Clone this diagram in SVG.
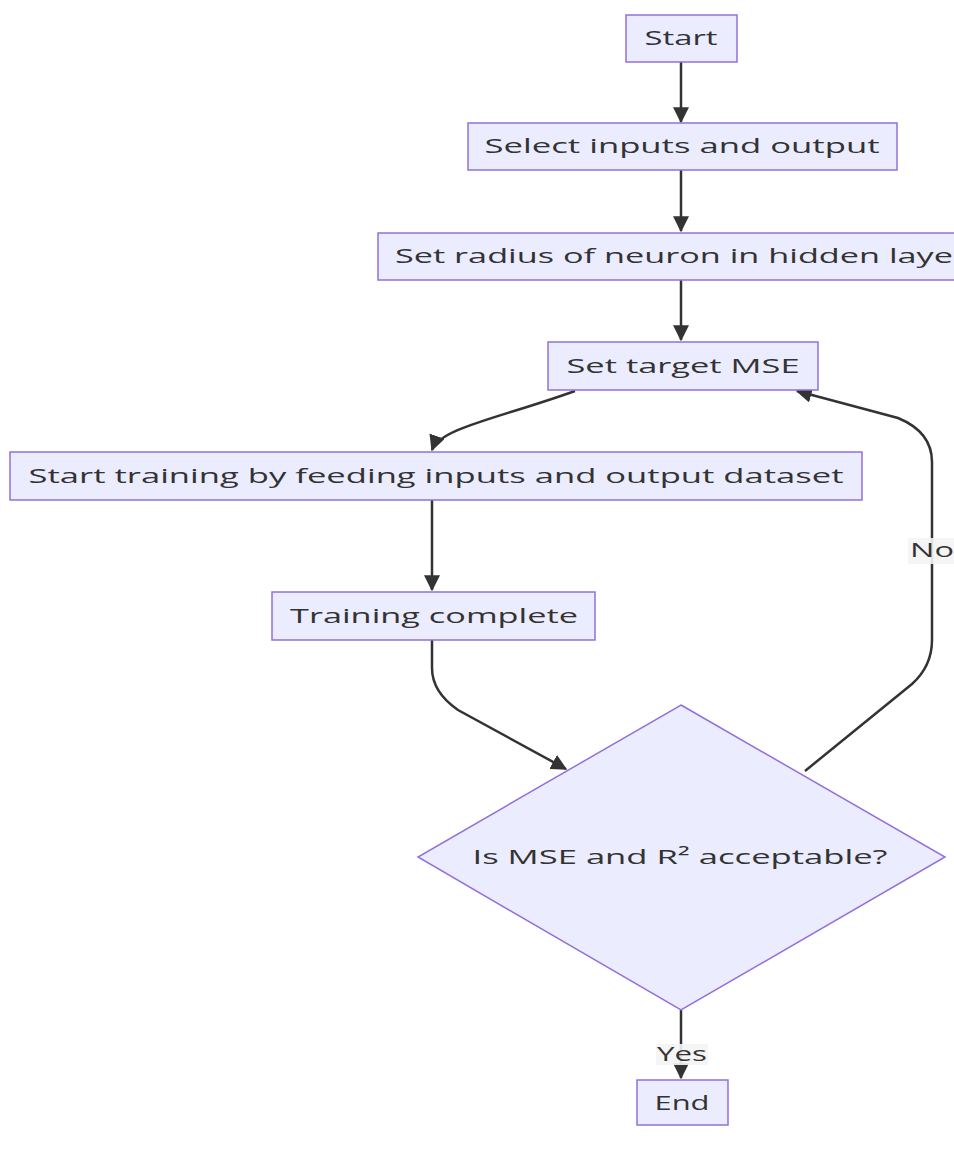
<svg xmlns="http://www.w3.org/2000/svg" width="954" height="1151" viewBox="0 0 954 1151">
<style>
.node rect,.node polygon{fill:#ECECFF;stroke:#9370DB;stroke-width:1.5}
text{font-family:"Open Sans","DejaVu Sans",sans-serif;font-size:20px;fill:#333;text-anchor:middle}
.edge{fill:none;stroke:#333;stroke-width:2.5}
.lbl{fill:#f4f4f4;opacity:0.9}
</style>
<defs>
<marker id="ah" markerUnits="userSpaceOnUse" markerWidth="16" markerHeight="16" viewBox="0 0 12 12" refX="11" refY="6" orient="auto">
<path d="M0,0 L12,6 L0,12 z" fill="#333"/>
</marker>
</defs>
<rect width="954" height="1151" fill="#fff"/>
<g id="connectors">
<path class="edge" d="M681,62 L681,122" marker-end="url(#ah)"/>
<path class="edge" d="M681,170 L681,231" marker-end="url(#ah)"/>
<path class="edge" d="M681,280 L681,340" marker-end="url(#ah)"/>
<path class="edge" d="M575,391 C500,418 440,428 432,450" marker-end="url(#ah)"/>
<path class="edge" d="M432,500 L432,590" marker-end="url(#ah)"/>
<path class="edge" d="M432,640 L432,668 Q432,692 458,710 L566,769" marker-end="url(#ah)"/>
<path class="edge" d="M805,771 L912,684 Q932,666 932,640 L932,462 Q932,432 898,418 L797,391" marker-end="url(#ah)"/>
<path class="edge" d="M681,1010 L681,1078" marker-end="url(#ah)"/>
<rect class="lbl" x="908" y="538" width="46" height="26"/>
<text x="932" y="557" textLength="44" lengthAdjust="spacingAndGlyphs">No</text>
<rect class="lbl" x="656" y="1044" width="52" height="21"/>
<text x="682" y="1061" textLength="50" lengthAdjust="spacingAndGlyphs">Yes</text>
</g>
<g id="start" class="node"><rect x="626" y="15" width="111" height="47"/><text x="681" y="45" textLength="73" lengthAdjust="spacingAndGlyphs">Start</text></g>
<g id="select" class="node"><rect x="468" y="123" width="429" height="47"/><text x="682" y="153" textLength="395" lengthAdjust="spacingAndGlyphs">Select inputs and output</text></g>
<g id="radius" class="node"><rect x="378" y="233" width="600" height="47"/><text x="395" y="263" style="text-anchor:start" textLength="572" lengthAdjust="spacingAndGlyphs">Set radius of neuron in hidden layer</text></g>
<g id="target" class="node"><rect x="548" y="342" width="270" height="48"/><text x="683" y="373" textLength="233" lengthAdjust="spacingAndGlyphs">Set target MSE</text></g>
<g id="training" class="node"><rect x="10" y="452" width="852" height="48"/><text x="436" y="483" textLength="815" lengthAdjust="spacingAndGlyphs">Start training by feeding inputs and output dataset</text></g>
<g id="complete" class="node"><rect x="272" y="592" width="323" height="48"/><text x="434" y="623" textLength="288" lengthAdjust="spacingAndGlyphs">Training complete</text></g>
<g id="decision" class="node"><polygon points="681,705 945,857 681,1010 418,857"/><text x="680" y="864" textLength="415" lengthAdjust="spacingAndGlyphs">Is MSE and R² acceptable?</text></g>
<g id="end" class="node"><rect x="637" y="1080" width="91" height="45"/><text x="682" y="1110" textLength="55" lengthAdjust="spacingAndGlyphs">End</text></g>
</svg>
